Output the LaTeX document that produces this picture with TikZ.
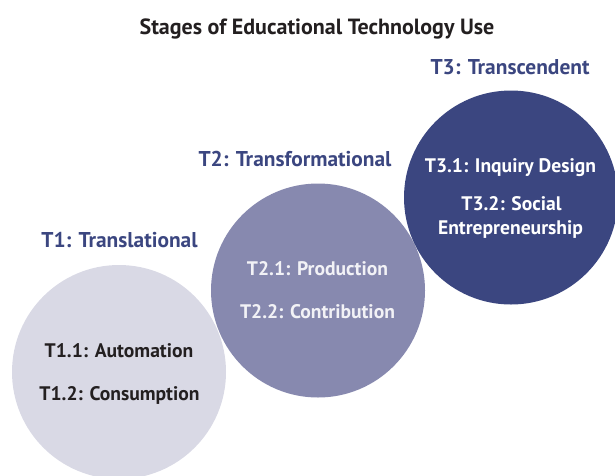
\documentclass[tikz,border=0pt]{standalone}
\usepackage{fontspec}
\setmainfont{PT Sans}
\definecolor{lightc}{HTML}{D9D9E5}
\definecolor{midc}{HTML}{8789AF}
\definecolor{darkc}{HTML}{3B4680}
\definecolor{headc}{HTML}{3B4680}
\definecolor{inkc}{HTML}{231F20}
\definecolor{paleink}{HTML}{F2F2F6}
\begin{document}
\begin{tikzpicture}[x=1pt,y=-1pt,
  disc/.style={circle,minimum size=214pt,inner sep=0pt,draw=none},
  body/.style={font=\bfseries\fontsize{19.6}{24}\selectfont,anchor=base,inner sep=0pt},
  head/.style={font=\bfseries\fontsize{21.4}{25}\selectfont,anchor=base,inner sep=0pt,text=headc},
  titl/.style={font=\bfseries\fontsize{22}{26}\selectfont,anchor=base,inner sep=0pt,text=inkc}]
\useasboundingbox (0,0) rectangle (615,475);
\begin{scope}
\clip (0,0) rectangle (615,475);
\node[disc,fill=lightc] (c1) at (119,372) {};
\node[disc,fill=midc] (c2) at (318,290.5) {};
\node[disc,fill=darkc] (c3) at (511,197.5) {};
\end{scope}
\node[titl] (title) at (317,34) {Stages of Educational Technology Use};
\node[head] (h3) at (510,74) {T3: Transcendent};
\node[head] (h2) at (295,166.7) {T2: Transformational};
\node[head] (h1) at (119.5,247) {T1: Translational};
\node[body,text=inkc] (t11) at (119,357) {T1.1: Automation};
\node[body,text=inkc] (t12) at (119.5,400) {T1.2: Consumption};
\node[body,text=paleink] (t21) at (317.5,275.7) {T2.1: Production};
\node[body,text=paleink] (t22) at (317.5,318) {T2.2: Contribution};
\node[body,text=white] (t31) at (510.5,172.7) {T3.1: Inquiry Design};
\node[body,text=white] (t32) at (511.5,210) {T3.2: Social};
\node[body,text=white] (t33) at (510.5,234) {Entrepreneurship};
\end{tikzpicture}
\end{document}
